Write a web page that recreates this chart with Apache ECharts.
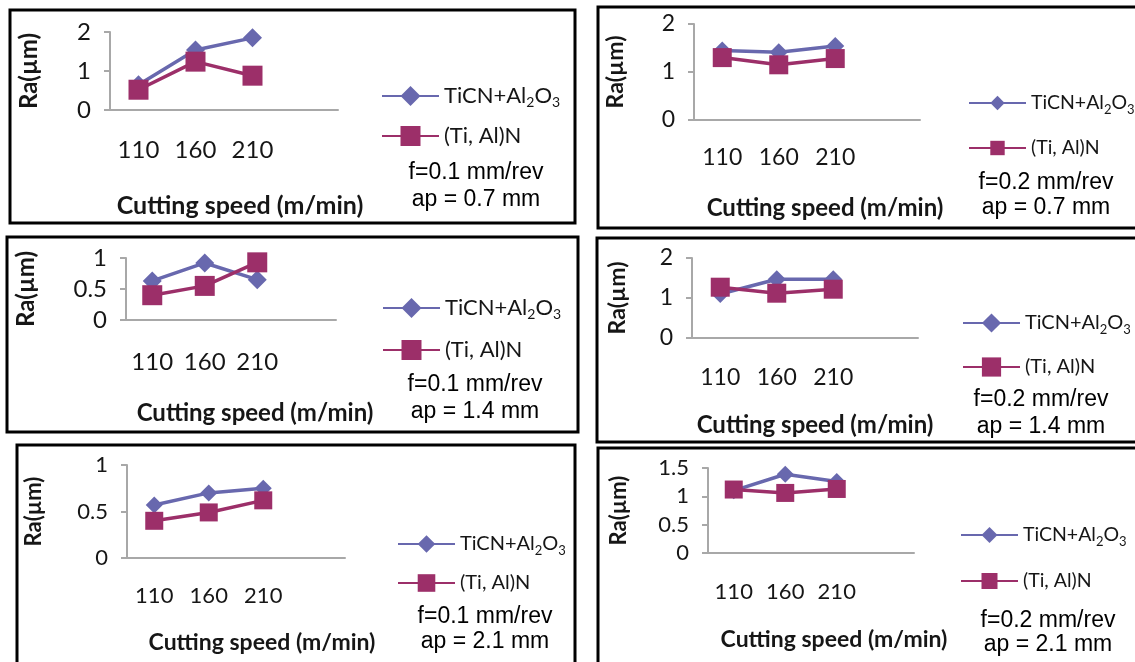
<!DOCTYPE html>
<html>
<head>
<meta charset="utf-8">
<title>Ra vs cutting speed</title>
<script src="https://cdn.jsdelivr.net/npm/echarts@6/dist/echarts.min.js"></script>
<style>
  html, body { margin: 0; padding: 0; background: #fff; }
  #chart { width: 1135px; height: 662px; }
</style>
</head>
<body>
<div id="chart"></div>
<script>
  // cutting speeds (m/min) on the x axis
  const speeds = ['110', '160', '210'];
  const coatings = ['TiCN+Al2O3', '(Ti, Al)N'];

  // Ra (um)
  const ticnF01Ap07 = [0.65, 1.54, 1.85];
  const tialnF01Ap07 = [0.52, 1.24, 0.88];
  const ticnF02Ap07 = [1.45, 1.41, 1.54];
  const tialnF02Ap07 = [1.30, 1.15, 1.28];
  const ticnF01Ap14 = [0.63, 0.92, 0.65];
  const tialnF01Ap14 = [0.40, 0.55, 0.93];
  const ticnF02Ap14 = [1.10, 1.47, 1.47];
  const tialnF02Ap14 = [1.27, 1.12, 1.22];
  const ticnF01Ap21 = [0.57, 0.70, 0.75];
  const tialnF01Ap21 = [0.40, 0.49, 0.62];
  const ticnF02Ap21 = [1.10, 1.39, 1.26];
  const tialnF02Ap21 = [1.12, 1.06, 1.13];

  const feedText = ['f=0.1 mm/rev', 'f=0.2 mm/rev', 'f=0.1 mm/rev', 'f=0.2 mm/rev', 'f=0.1 mm/rev', 'f=0.2 mm/rev'];
  const depthText = ['ap = 0.7 mm', 'ap = 0.7 mm', 'ap = 1.4 mm', 'ap = 1.4 mm', 'ap = 2.1 mm', 'ap = 2.1 mm'];

  // y axis ticks per panel
  const yMax = [2, 2, 1, 2, 1, 1.5];
  const yStep = [1, 1, 0.5, 1, 0.5, 0.5];

  const panelData = [
    [ticnF01Ap07, tialnF01Ap07],
    [ticnF02Ap07, tialnF02Ap07],
    [ticnF01Ap14, tialnF01Ap14],
    [ticnF02Ap14, tialnF02Ap14],
    [ticnF01Ap21, tialnF01Ap21],
    [ticnF02Ap21, tialnF02Ap21]
  ];

  // page positions of every panel (frame, plot box, legend, note)
  const layout = [
    { frame: [10, 10, 575, 223], grid: [110, 32, 338, 110], yGap: 69, xGap: 83, xShift: 16, lblMargin: 28, legend: [381, 98, 140], legSym: 25, legFs: 22, note: [476, 173, 200], k: 1.05 },
    { frame: [598, 7, 1138, 228], grid: [694, 24, 920, 120], yGap: 67, xGap: 76, xShift: 18, lblMargin: 26, legend: [968, 106, 154], legSym: 18, legFs: 19.5, note: [1046, 183, 208], k: 1.0 },
    { frame: [7, 237, 578, 432], grid: [126, 258, 336, 320], yGap: 88, xGap: 81, xShift: 24, lblMargin: 30, legend: [382, 310, 354], legSym: 25, legFs: 22, note: [475, 385, 412], k: 1.03 },
    { frame: [597, 238, 1138, 442], grid: [692, 258, 918, 338], yGap: 63, xGap: 75, xShift: 10, lblMargin: 28, legend: [962, 326, 373], legSym: 24, legFs: 20, note: [1041, 400, 427], k: 1.0 },
    { frame: [17, 445, 575, 666], grid: [127, 465, 345, 558], yGap: 82, xGap: 73, xShift: 26, lblMargin: 27, legend: [397, 547, 589], legSym: 22, legFs: 20, note: [485, 617, 642], k: 0.97 },
    { frame: [598, 448, 1138, 666], grid: [708, 468, 914, 553], yGap: 78, xGap: 75, xShift: 23, lblMargin: 28, legend: [960, 538, 587], legSym: 20, legFs: 19.5, note: [1048, 621, 645], k: 0.97 }
  ];

  const colors = ['#6868ae', '#9c2f69'];
  const symbols = ['diamond', 'rect'];
  const axisGrey = '#a8a8a8';
  const textColor = '#161616';
  const font = 'Lato';

  let grid = [], xAxis = [], yAxis = [], series = [], legend = [], graphic = [];

  layout.forEach((p, i) => {
    const [gl, gt, gr, gb] = p.grid;
    const k = p.k;

    grid.push({ left: gl, top: gt, width: gr - gl, height: gb - gt });

    xAxis.push({
      type: 'category',
      gridIndex: i,
      // one empty slot after 210, as in the original plot area
      data: speeds.concat(['']),
      boundaryGap: true,
      axisLine: { lineStyle: { color: axisGrey, width: 2 } },
      axisTick: { show: false },
      axisLabel: {
        margin: p.lblMargin,
        color: textColor,
        fontFamily: font,
        fontSize: Math.round(23 * k),
        interval: 0
      },
      name: 'Cutting speed (m/min)',
      nameLocation: 'middle',
      nameGap: p.xGap,
      nameTextStyle: {
        fontFamily: font,
        fontWeight: 'bold',
        fontSize: Math.round(23.5 * k),
        color: textColor,
        padding: [0, 0, 0, p.xShift * 2]
      }
    });

    yAxis.push({
      type: 'value',
      gridIndex: i,
      min: 0,
      max: yMax[i],
      interval: yStep[i],
      splitLine: { show: false },
      axisLine: { show: true, lineStyle: { color: axisGrey, width: 2 } },
      axisTick: { show: true, length: 6, lineStyle: { color: axisGrey, width: 2 } },
      axisLabel: {
        margin: 19,
        color: textColor,
        fontFamily: font,
        fontSize: Math.round(23 * k)
      },
      name: 'Ra(\u00b5m)',
      nameLocation: 'middle',
      nameRotate: 90,
      nameGap: p.yGap,
      nameTextStyle: {
        fontFamily: font,
        fontWeight: 'bold',
        fontSize: Math.round(23 * k),
        color: textColor
      }
    });

    coatings.forEach((name, s) => {
      series.push({
        name: name,
        type: 'line',
        xAxisIndex: i,
        yAxisIndex: i,
        data: panelData[i][s],
        symbol: symbols[s],
        symbolSize: Math.round((s === 0 ? 18 : 19) * k),
        color: colors[s],
        lineStyle: { width: 3.5, color: colors[s] },
        itemStyle: { color: colors[s] },
        silent: true,
        animation: false
      });
    });

    const fs = p.legFs;
    const itemH = Math.max(p.legSym, 26);
    legend.push({
      orient: 'vertical',
      left: p.legend[0],
      top: p.legend[1] - itemH / 2,
      padding: 0,
      itemWidth: 57,
      itemHeight: p.legSym,
      itemGap: p.legend[2] - p.legend[1] - itemH,
      selectedMode: false,
      data: coatings,
      formatter: name => name === 'TiCN+Al2O3'
        ? '{a|TiCN+Al}{b|2}{a|O}{b|3}'
        : '{a|' + name + '}',
      textStyle: {
        color: textColor,
        fontFamily: font,
        fontSize: fs,
        rich: {
          a: { color: textColor, fontFamily: font, fontSize: fs, lineHeight: 26 },
          b: { color: textColor, fontFamily: font, fontSize: Math.round(fs * 0.65), verticalAlign: 'bottom' }
        }
      }
    });

    const [fl, ft, fr, fb] = p.frame;
    graphic.push({
      type: 'rect',
      silent: true,
      shape: { x: fl, y: ft, width: fr - fl, height: fb - ft },
      style: { fill: 'none', stroke: '#000', lineWidth: 3 }
    });
    graphic.push({
      type: 'text',
      silent: true,
      x: p.note[0],
      y: p.note[1],
      style: { text: feedText[i], fontFamily: 'Liberation Sans', fontSize: 23, fill: '#000', align: 'center', verticalAlign: 'middle' }
    });
    graphic.push({
      type: 'text',
      silent: true,
      x: p.note[0],
      y: p.note[2],
      style: { text: depthText[i], fontFamily: 'Liberation Sans', fontSize: 23, fill: '#000', align: 'center', verticalAlign: 'middle' }
    });
  });

  const myChart = echarts.init(document.getElementById('chart'));
  myChart.setOption({
    animation: false,
    backgroundColor: '#fff',
    grid: grid,
    xAxis: xAxis,
    yAxis: yAxis,
    legend: legend,
    series: series,
    graphic: graphic
  });
</script>
</body>
</html>
